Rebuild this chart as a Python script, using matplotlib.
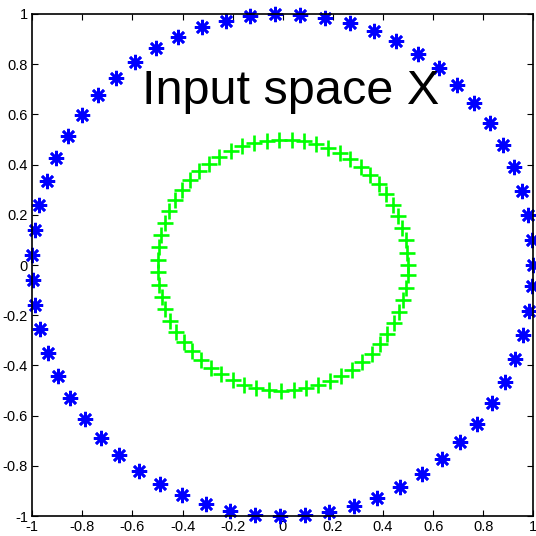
import matplotlib
matplotlib.use("Agg")
matplotlib.rcParams["font.family"] = ["Liberation Sans", "DejaVu Sans"]

import matplotlib.pyplot as plt
import numpy as np

# sample angles (rad), same for both rings: 0, 0.1, ..., 6.2
theta = [0.0, 0.1, 0.2, 0.3, 0.4, 0.5, 0.6, 0.7, 0.8, 0.9,
         1.0, 1.1, 1.2, 1.3, 1.4, 1.5, 1.6, 1.7, 1.8, 1.9,
         2.0, 2.1, 2.2, 2.3, 2.4, 2.5, 2.6, 2.7, 2.8, 2.9,
         3.0, 3.1, 3.2, 3.3, 3.4, 3.5, 3.6, 3.7, 3.8, 3.9,
         4.0, 4.1, 4.2, 4.3, 4.4, 4.5, 4.6, 4.7, 4.8, 4.9,
         5.0, 5.1, 5.2, 5.3, 5.4, 5.5, 5.6, 5.7, 5.8, 5.9,
         6.0, 6.1, 6.2]
outer_radius = 1.0
inner_radius = 0.5
ticks = [-1, -0.8, -0.6, -0.4, -0.2, 0, 0.2, 0.4, 0.6, 0.8, 1]
tick_labels = ["-1", "-0.8", "-0.6", "-0.4", "-0.2", "0", "0.2", "0.4", "0.6", "0.8", "1"]

t = np.array(theta)

fig = plt.figure(figsize=(5.36, 5.36), dpi=100)
ax = fig.add_axes([0.060, 0.037, 0.935, 0.937])

ax.plot(outer_radius * np.cos(t), outer_radius * np.sin(t), linestyle="none",
        marker=(8, 2, 0), markersize=11, markeredgewidth=1.9,
        color=(0, 0, 1), clip_on=False)
ax.plot(inner_radius * np.cos(t), inner_radius * np.sin(t), linestyle="none",
        marker="+", markersize=11, markeredgewidth=1.9,
        color=(0, 1, 0), clip_on=False)

ax.text(0.03, 0.69, "Input space X", ha="center", va="center", fontsize=35)

ax.set_xlim(-1, 1)
ax.set_ylim(-1, 1)
ax.set_xticks(ticks)
ax.set_xticklabels(tick_labels)
ax.set_yticks(ticks)
ax.set_yticklabels(tick_labels)
ax.tick_params(direction="in", top=True, right=True, length=4, width=0.8,
               labelsize=10.5, pad=3)
for s in ax.spines.values():
    s.set_linewidth(1.2)

fig.savefig("out.png", dpi=100)
